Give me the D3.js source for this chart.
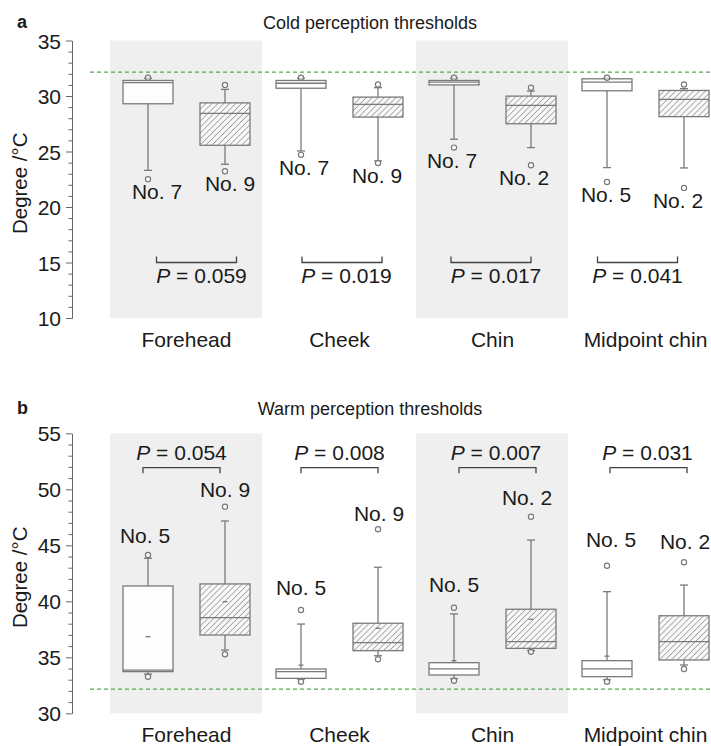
<!DOCTYPE html>
<html>
<head>
<meta charset="utf-8">
<script src="https://cdn.jsdelivr.net/npm/d3@7"></script>
<style>
  html, body { margin: 0; padding: 0; background: #fff; }
  svg { display: block; font-family: "Liberation Sans", Arial, sans-serif; }
</style>
</head>
<body>
<svg id="chart" width="711" height="746"></svg>
<script>
// ---------------- DATA ----------------
const categories = ["Forehead", "Cheek", "Chin", "Midpoint chin"];
const coldTicks = [10, 15, 20, 25, 30, 35];
const warmTicks = [30, 35, 40, 45, 50, 55];
const baselineTemp = 32.15;

// box = [whiskerLow, Q1, median, Q3, whiskerHigh]; out = [lowOutlier, highOutlier]
const coldPlainBox = [
  [23.3, 29.3, 31.2, 31.4, 31.6],
  [25.05, 30.7, 31.15, 31.4, 31.6],
  [26.1, 31.0, 31.25, 31.4, 31.6],
  [23.55, 30.47, 31.25, 31.55, 31.6]
];
const coldPlainOut = [[22.5, 31.65], [24.7, 31.65], [25.35, 31.65], [22.25, 31.65]];
const coldHatchBox = [
  [23.85, 25.56, 28.43, 29.38, 30.6],
  [24.15, 28.1, 29.24, 29.9, 30.75],
  [25.35, 27.5, 29.15, 29.99, 30.44],
  [23.52, 28.14, 29.69, 30.5, 30.66]
];
const coldHatchOut = [[23.22, 31.0], [23.97, 31.04], [23.76, 30.75], [21.72, 31.04]];
const coldPlainLabels = ["No. 7", "No. 7", "No. 7", "No. 5"];
const coldHatchLabels = ["No. 9", "No. 9", "No. 2", "No. 2"];
const coldP = ["0.059", "0.019", "0.017", "0.041"];
const coldBracket = 15;

const warmPlainBox = [
  [33.5, 33.72, 33.85, 41.37, 43.84],
  [33.05, 33.12, 33.72, 33.96, 37.97],
  [33.1, 33.42, 33.96, 34.52, 38.87],
  [33.0, 33.27, 33.96, 34.7, 40.86]
];
const warmPlainOut = [[33.27, 44.13], [32.82, 39.22], [32.91, 39.43], [32.82, 43.18]];
const warmPlainMean = [36.84, 34.3, 34.7, 35.1];
const warmHatchBox = [
  [35.65, 36.99, 38.54, 41.55, 47.17],
  [35.14, 35.59, 36.31, 38.04, 43.04],
  [35.6, 35.8, 36.4, 39.29, 45.47],
  [34.31, 34.76, 36.4, 38.71, 41.45]
];
const warmHatchOut = [[35.27, 48.45], [34.82, 46.43], [35.5, 47.55], [33.96, 43.48]];
const warmHatchMean = [39.97, 37.59, 38.39, null];
const warmPlainLabels = ["No. 5", "No. 5", "No. 5", "No. 5"];
const warmHatchLabels = ["No. 9", "No. 9", "No. 2", "No. 2"];
const warmP = ["0.054", "0.008", "0.007", "0.031"];
const warmBracket = 51.93;

// ---------------- LAYOUT (pixel nudges, not data) ----------------
const coldLabelDx = [[9, 5], [3, -1], [-2, -7], [-1, -6]];
const warmLabelDx = [[-3, 0], [0, 1], [0, -4], [4, 1]];
const warmLabelDy = [[12, 10], [15, 8], [16, 12], [19, 13]];
const coldBracketDx = [10, 2.5, -1.5, -8];
const coldPDx = [15, 7, 3.5, -8];
const warmBracketDx = [-5, 0, 5, 3];
const warmPDx = [-5, 0, 3.5, 2];

const svg = d3.select("#chart");
const W = 711;
const gray = "#7a7a7a";
const textCol = "#1a1a1a";

// hatch pattern
const defs = svg.append("defs");
const hs = 4.2;
const pat = defs.append("pattern")
  .attr("id", "hatch").attr("patternUnits", "userSpaceOnUse")
  .attr("width", hs).attr("height", hs)
  .attr("patternTransform", "rotate(45)");
pat.append("rect").attr("width", hs).attr("height", hs).attr("fill", "#f8f8f8");
pat.append("line").attr("x1", 0).attr("y1", 0).attr("x2", 0).attr("y2", hs)
  .attr("stroke", "#7e7e7e").attr("stroke-width", 1.2);

const x = d3.scaleBand().domain(categories).range([110, 722]).padding(0);
const boxOff = 38.5, boxW = 50, capW = 8;

function panel(opts) {
  const y = d3.scaleLinear().domain(opts.domain).range(opts.range);
  const g = svg.append("g");

  // shaded bands (Forehead and Chin)
  [categories[0], categories[2]].forEach(c => {
    g.append("rect")
      .attr("x", x(c)).attr("width", x.bandwidth() - 1)
      .attr("y", y(opts.domain[1])).attr("height", y(opts.domain[0]) - y(opts.domain[1]))
      .attr("fill", "#efefef");
  });

  // axis
  const minor = d3.range(opts.domain[0], opts.domain[1] + 0.001, 1).filter(v => v % 5 !== 0);
  g.append("g").attr("transform", "translate(72,0)")
    .call(d3.axisLeft(y).tickValues(minor).tickSize(3.5).tickFormat("").tickSizeOuter(0))
    .call(a => a.selectAll("line").attr("stroke", "#666"))
    .call(a => a.select(".domain").attr("stroke", "#666"));
  const ax = g.append("g").attr("transform", "translate(72,0)")
    .call(d3.axisLeft(y).tickValues(opts.ticks).tickSize(6).tickSizeOuter(0).tickPadding(5));
  ax.select(".domain").attr("stroke", "#666");
  ax.selectAll("line").attr("stroke", "#666");
  ax.selectAll("text").attr("font-size", 21).attr("fill", textCol)
    .attr("font-family", "Liberation Sans, Arial, sans-serif").attr("dy", "0.36em");

  // baseline dashed line
  g.append("line").attr("x1", 90).attr("x2", W).attr("y1", y(baselineTemp)).attr("y2", y(baselineTemp))
    .attr("stroke", "#52ab4c").attr("stroke-width", 1.2).attr("stroke-dasharray", "4,3");

  // boxes
  categories.forEach((c, i) => {
    const cx = x(c) + x.bandwidth() / 2;
    [[opts.plainBox, opts.plainOut, opts.plainMean, "#fdfdfd", -boxOff],
     [opts.hatchBox, opts.hatchOut, opts.hatchMean, "url(#hatch)", boxOff]].forEach(([B, O, M, fill, off], k) => {
      const bx = cx + off;
      const [lo, q1, med, q3, hi] = B[i];
      // whiskers
      g.append("line").attr("x1", bx).attr("x2", bx).attr("y1", y(hi)).attr("y2", y(q3))
        .attr("stroke", gray).attr("stroke-width", 1.3);
      g.append("line").attr("x1", bx).attr("x2", bx).attr("y1", y(q1)).attr("y2", y(lo))
        .attr("stroke", gray).attr("stroke-width", 1.3);
      [lo, hi].forEach(v => g.append("line").attr("x1", bx - capW / 2).attr("x2", bx + capW / 2)
        .attr("y1", y(v)).attr("y2", y(v)).attr("stroke", gray).attr("stroke-width", 1.3));
      // box
      g.append("rect").attr("x", bx - boxW / 2).attr("width", boxW)
        .attr("y", y(q3)).attr("height", Math.max(1, y(q1) - y(q3)))
        .attr("fill", fill).attr("stroke", gray).attr("stroke-width", 1.3);
      g.append("line").attr("x1", bx - boxW / 2).attr("x2", bx + boxW / 2)
        .attr("y1", y(med)).attr("y2", y(med)).attr("stroke", gray).attr("stroke-width", 1.3);
      // mean marker
      if (M && M[i] != null) {
        g.append("line").attr("x1", bx - 2.5).attr("x2", bx + 2.5)
          .attr("y1", y(M[i])).attr("y2", y(M[i])).attr("stroke", gray).attr("stroke-width", 1.3);
      }
      // outliers
      O[i].forEach(v => g.append("circle").attr("cx", bx).attr("cy", y(v)).attr("r", 2.6)
        .attr("fill", "#fff").attr("fill-opacity", 0.6).attr("stroke", gray).attr("stroke-width", 1.2));
      // subject label
      const lab = k === 0 ? opts.plainLabels[i] : opts.hatchLabels[i];
      const ly = opts.labelBelow ? y(O[i][0]) + 20 : y(O[i][1]) - opts.labelDy[i][k];
      g.append("text").attr("x", bx + opts.labelDx[i][k]).attr("y", ly)
        .attr("text-anchor", "middle").attr("font-size", 21).attr("fill", textCol).text(lab);
    });

    // p-value bracket
    const bc = cx + opts.bracketDx[i];
    const by = y(opts.bracket);
    const tick = opts.labelBelow ? -6 : 5.6;
    const bw = opts.labelBelow ? 40 : 38.5;
    g.append("path")
      .attr("d", `M${bc - bw},${by + tick}V${by}H${bc + bw}V${by + tick}`)
      .attr("fill", "none").attr("stroke", "#444").attr("stroke-width", 1.3);
    const pt = g.append("text").attr("x", cx + opts.pDx[i]).attr("y", opts.pY)
      .attr("text-anchor", "middle").attr("font-size", 21).attr("fill", textCol);
    pt.append("tspan").attr("font-style", "italic").text("P");
    pt.append("tspan").text(" = " + opts.p[i]);

    // category label
    g.append("text").attr("x", cx).attr("y", opts.catY)
      .attr("text-anchor", "middle").attr("font-size", 21).attr("fill", textCol).text(c);
  });

  // title, panel letter, y label
  g.append("text").attr("x", 370).attr("y", opts.titleY).attr("text-anchor", "middle")
    .attr("font-size", 18).attr("fill", textCol).text(opts.title);
  g.append("text").attr("x", 17).attr("y", opts.titleY - 1).attr("font-size", 18)
    .attr("font-weight", "bold").attr("fill", textCol).text(opts.letter);
  const my = (opts.range[0] + opts.range[1]) / 2 + 4;
  g.append("text").attr("transform", `translate(27,${my}) rotate(-90)`)
    .attr("text-anchor", "middle").attr("font-size", 20.5).attr("fill", textCol).text("Degree /°C");
}

panel({
  domain: [10, 35], range: [318, 40.5], ticks: coldTicks,
  plainBox: coldPlainBox, plainOut: coldPlainOut, plainMean: null,
  hatchBox: coldHatchBox, hatchOut: coldHatchOut, hatchMean: null,
  plainLabels: coldPlainLabels, hatchLabels: coldHatchLabels,
  labelBelow: true, labelDx: coldLabelDx, labelDy: null,
  bracket: coldBracket, bracketDx: coldBracketDx, p: coldP, pDx: coldPDx, pY: 283,
  catY: 347, title: "Cold perception thresholds", titleY: 29, letter: "a"
});

panel({
  domain: [30, 55], range: [713.3, 433.3], ticks: warmTicks,
  plainBox: warmPlainBox, plainOut: warmPlainOut, plainMean: warmPlainMean,
  hatchBox: warmHatchBox, hatchOut: warmHatchOut, hatchMean: warmHatchMean,
  plainLabels: warmPlainLabels, hatchLabels: warmHatchLabels,
  labelBelow: false, labelDx: warmLabelDx, labelDy: warmLabelDy,
  bracket: warmBracket, bracketDx: warmBracketDx, p: warmP, pDx: warmPDx, pY: 460,
  catY: 741.5, title: "Warm perception thresholds", titleY: 415, letter: "b"
});
</script>
</body>
</html>
